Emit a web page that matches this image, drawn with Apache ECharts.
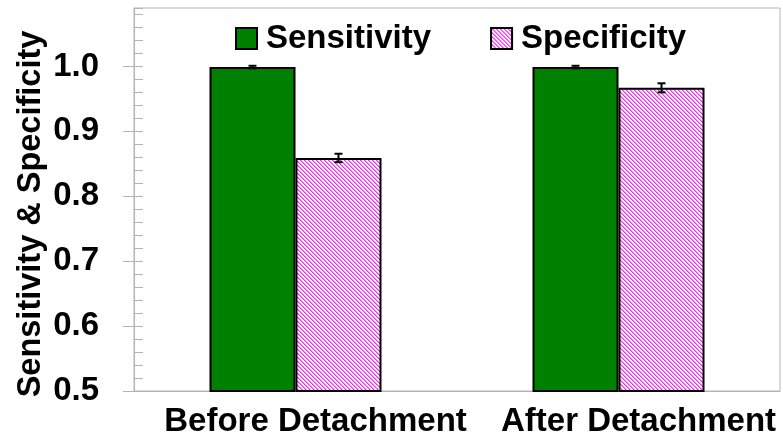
<!DOCTYPE html>
<html>
<head>
<meta charset="utf-8">
<script src="https://cdn.jsdelivr.net/npm/echarts@6/dist/echarts.min.js"></script>
<style>
html,body{margin:0;padding:0;background:#fff;}
#chart{width:783px;height:443px;}
</style>
</head>
<body>
<div id="chart"></div>
<script>
// ---- data ----
var categories = ['Before Detachment', 'After Detachment'];
var sensitivity = [0.999, 0.999];
var sensitivityErr = [0.002, 0.002];
var specificity = [0.859, 0.967];
var specificityErr = [0.0065, 0.007];
var yTicks = [0.5, 0.6, 0.7, 0.8, 0.9, 1.0];
var seriesNames = ['Sensitivity', 'Specificity'];
var yTitle = 'Sensitivity & Specificity';

// ---- style ----
var FONT = '"Liberation Sans", Arial, sans-serif';
var FS = 33;
var BAR_W = 86;
var GRAY = '#b4b4b4';

function makeHatch() {
  var c = document.createElement('canvas');
  c.width = 4; c.height = 4;
  var ctx = c.getContext('2d');
  ctx.fillStyle = '#ffffff';
  ctx.fillRect(0, 0, 4, 4);
  for (var y = 0; y < 4; y++) {
    for (var x = 0; x < 4; x++) {
      var d = ((x - y) % 4 + 4) % 4;
      if (d === 0) { ctx.fillStyle = '#ff22ff'; ctx.fillRect(x, y, 1, 1); }
      else if (d === 1) { ctx.fillStyle = '#ff88ff'; ctx.fillRect(x, y, 1, 1); }
    }
  }
  return c;
}
var hatch = { image: makeHatch(), repeat: 'repeat' };

var chart = echarts.init(document.getElementById('chart'), null, { renderer: 'canvas' });

function errorSeries(values, errs, offset) {
  var data = values.map(function (v, i) { return [i, v, v - errs[i], v + errs[i]]; });
  return {
    type: 'custom',
    z: 10,
    silent: true,
    data: data,
    encode: { x: 0, y: 1 },
    renderItem: function (params, api) {
      var i = api.value(0);
      var lo = api.coord([i, api.value(2)]);
      var hi = api.coord([i, api.value(3)]);
      var x = lo[0] + offset;
      var cap = 4;
      var st = { stroke: '#000', lineWidth: 2 };
      return {
        type: 'group',
        children: [
          { type: 'line', shape: { x1: x, y1: lo[1], x2: x, y2: hi[1] }, style: st },
          { type: 'line', shape: { x1: x - cap, y1: lo[1], x2: x + cap, y2: lo[1] }, style: st },
          { type: 'line', shape: { x1: x - cap, y1: hi[1], x2: x + cap, y2: hi[1] }, style: st }
        ]
      };
    }
  };
}

var option = {
  backgroundColor: '#fff',
  animation: false,
  textStyle: { fontFamily: FONT },
  grid: { left: 134, right: 3, top: 8, bottom: 52, show: true, borderColor: GRAY, borderWidth: 1 },
  legend: {
    left: 235, top: 22, padding: 0,
    itemWidth: 21, itemHeight: 21, itemGap: 59,
    icon: 'rect',
    itemStyle: { borderColor: '#000', borderWidth: 2 },
    textStyle: { fontFamily: FONT, fontSize: FS, fontWeight: 'bold', color: '#000', padding: [0, 0, 0, 4] },
    data: seriesNames
  },
  xAxis: {
    type: 'category',
    data: categories,
    axisLine: { show: true, lineStyle: { color: GRAY, width: 1 } },
    axisTick: { show: false },
    splitLine: { show: false },
    axisLabel: {
      margin: 14, fontFamily: FONT, fontSize: FS, fontWeight: 'bold', color: '#000',
      padding: [0, 0, 0, 40], interval: 0
    }
  },
  yAxis: [
    {
      type: 'value', min: 0.5, max: 1.09, interval: 0.1,
      axisLine: { show: true, lineStyle: { color: GRAY, width: 1 } },
      axisTick: { show: true, inside: false, length: 11, customValues: yTicks, lineStyle: { color: GRAY } },
      splitLine: { show: false },
      axisLabel: {
        customValues: yTicks,
        margin: 35, fontFamily: FONT, fontSize: FS, fontWeight: 'bold', color: '#000',
        formatter: function (v) { return v.toFixed(1); }
      }
    },
    {
      type: 'value', min: 0.5, max: 1.09, interval: 0.02, position: 'left',
      axisLine: { show: false },
      axisTick: { show: true, inside: true, length: 9, lineStyle: { color: GRAY } },
      axisLabel: { show: false },
      splitLine: { show: false }
    }
  ],
  graphic: [{
    type: 'text',
    x: 31, y: 214,
    rotation: Math.PI / 2,
    style: {
      text: yTitle,
      fontFamily: FONT, fontSize: 32.5, fontWeight: 'bold', fill: '#000',
      textAlign: 'center', textVerticalAlign: 'middle'
    }
  }],
  series: [
    {
      name: seriesNames[0], type: 'bar', data: sensitivity, barWidth: BAR_W, barGap: '0%',
      itemStyle: { color: '#008000', borderColor: '#000', borderWidth: 2 }
    },
    {
      name: seriesNames[1], type: 'bar', data: specificity, barWidth: BAR_W, barGap: '0%',
      itemStyle: { color: hatch, borderColor: '#000', borderWidth: 2 }
    },
    errorSeries(sensitivity, sensitivityErr, -BAR_W / 2),
    errorSeries(specificity, specificityErr, BAR_W / 2)
  ]
};
chart.setOption(option);
</script>
</body>
</html>
